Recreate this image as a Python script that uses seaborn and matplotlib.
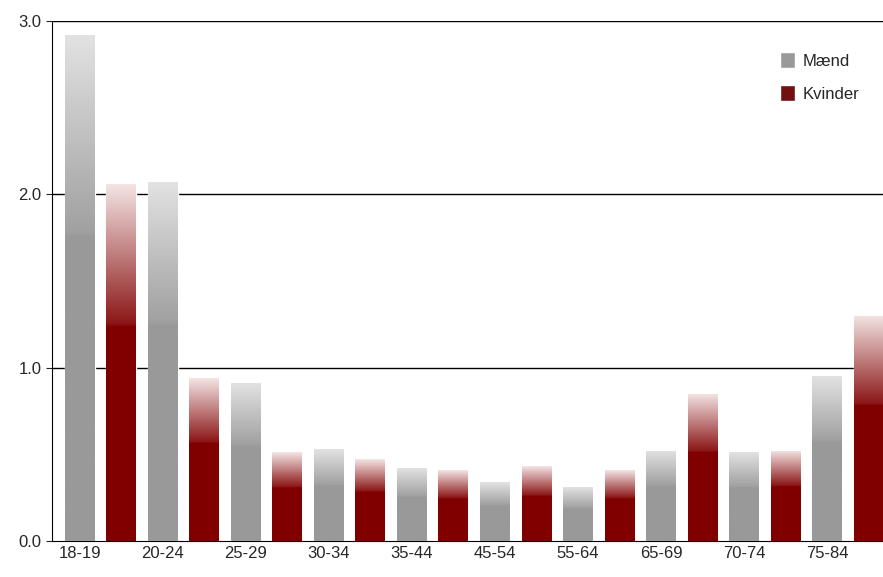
import matplotlib
matplotlib.use("Agg")
import matplotlib.pyplot as plt
import matplotlib.colors as mcolors
import numpy as np
import pandas as pd
import seaborn as sns

grupper = ["18-19", "20-24", "25-29", "30-34", "35-44", "45-54", "55-64", "65-69", "70-74", "75-84"]
maend = [2.92, 2.07, 0.91, 0.53, 0.42, 0.34, 0.31, 0.52, 0.51, 0.95]
kvinder = [2.06, 0.94, 0.51, 0.47, 0.41, 0.43, 0.41, 0.85, 0.52, 1.30]

rows = []
for i, g in enumerate(grupper):
    rows.append({"pos": 2 * i, "værdi": maend[i], "køn": "Mænd"})
    rows.append({"pos": 2 * i + 1, "værdi": kvinder[i], "køn": "Kvinder"})
df = pd.DataFrame(rows)

farver = {"Mænd": ("#999999", "#e2e2e2"), "Kvinder": ("#800000", "#f4e4e4")}

sns.set_style("white")
plt.rcParams["font.family"] = ["Liberation Sans", "DejaVu Sans"]
fig = plt.figure(figsize=(8.83, 5.77), dpi=100)
ax = fig.add_axes([0.059, 0.063, 0.941, 0.9])

for y in [1, 2, 3]:
    ax.axhline(y, color="black", lw=1, zorder=0)

sns.barplot(data=df, x="pos", y="værdi", hue="køn", native_scale=True,
            palette={k: v[0] for k, v in farver.items()}, dodge=False,
            width=0.72, ax=ax, legend=True, zorder=2)

# gradient overlay: solid bottom, fading to light at top
for patch in list(ax.patches):
    x0, y0 = patch.get_x(), patch.get_y()
    w, h = patch.get_width(), patch.get_height()
    if h <= 0:
        continue
    pos = int(round(x0 + w / 2))
    kon = "Mænd" if pos % 2 == 0 else "Kvinder"
    solid, light = farver[kon]
    mid = mcolors.to_hex(0.9 * np.array(mcolors.to_rgb(solid)) + 0.1 * np.array(mcolors.to_rgb(light)))
    cmap = mcolors.LinearSegmentedColormap.from_list(
        "g", [(0, solid), (0.6, solid), (0.61, mid), (1, light)])
    grad = np.linspace(0, 1, 256).reshape(-1, 1)
    im = ax.imshow(grad, extent=[x0, x0 + w, y0, y0 + h], origin="lower",
                   cmap=cmap, aspect="auto", zorder=3)
    im.set_clip_path(patch)

ax.set_xlim(-0.67, 19.35)
ax.set_ylim(0, 3)
ax.set_yticks([0, 1, 2, 3])
ax.set_yticklabels(["0.0", "1.0", "2.0", "3.0"], fontsize=12)
ax.set_xticks([2 * i for i in range(len(grupper))])
ax.set_xticklabels(grupper, fontsize=12)
ax.tick_params(axis="x", length=0, pad=4)
ax.tick_params(axis="y", length=4, left=True, direction="out")
ax.set_xlabel("")
ax.set_ylabel("")
for s in ["top", "right"]:
    ax.spines[s].set_visible(False)
for s in ["left", "bottom"]:
    ax.spines[s].set_color("black")

leg = ax.legend(loc="upper right", bbox_to_anchor=(0.99, 0.97), frameon=False,
                fontsize=12, handlelength=0.9, handleheight=1.1, labelspacing=1.0,
                handletextpad=0.5)

fig.savefig("out.png", dpi=100)
